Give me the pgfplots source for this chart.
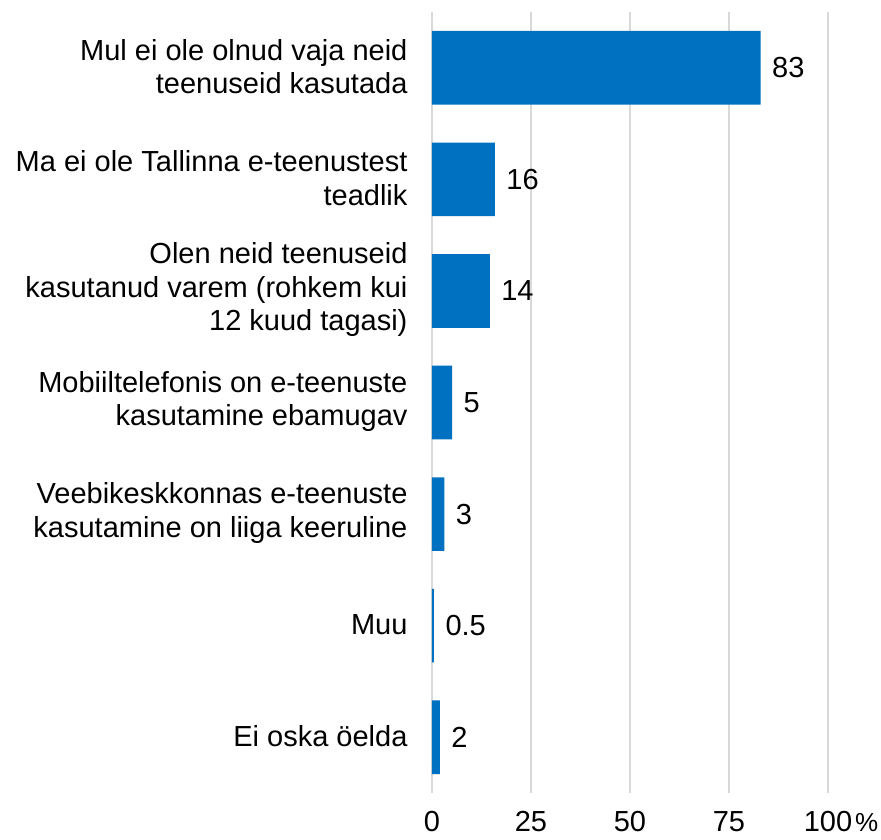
\documentclass[border=0pt]{standalone}
\usepackage{pgfplots}
\pgfplotsset{compat=1.18}
\usepackage{fontspec}
\setmainfont{Liberation Sans}
\definecolor{barblue}{HTML}{0070C0}
\definecolor{gridgray}{HTML}{D9D9D9}

\begin{document}
\begin{tikzpicture}
\useasboundingbox (-432pt,-46pt) rectangle (449pt,793pt);
\begin{axis}[
    at={(0,0)}, anchor=south west,
    scale only axis,
    width=396pt, height=781pt,
    xbar, bar width=0.66,
    xmin=0, xmax=100,
    ymin=-0.5, ymax=6.5,
    y dir=reverse,
    enlargelimits=false,
    axis line style={draw=none},
    major tick length=0pt,
    xtick={0,25,50,75,100},
    xticklabels={0,25,50,75,100\rlap{\kern3pt{\fontsize{26}{26}\selectfont\%}}},
    ytick={0,1,2,3,4,5,6},
    yticklabels={
      {Mul ei ole olnud vaja neid\\teenuseid kasutada},
      {Ma ei ole Tallinna e-teenustest\\teadlik},
      {Olen neid teenuseid\\kasutanud varem (rohkem kui\\12 kuud tagasi)},
      {Mobiiltelefonis on e-teenuste\\kasutamine ebamugav},
      {Veebikeskkonnas e-teenuste\\kasutamine on liiga keeruline},
      {Muu},
      {Ei oska öelda}
    },
    yticklabel style={align=right, font=\fontsize{29}{33.5}\selectfont, xshift=-21pt, yshift=1pt},
    xticklabel style={font=\fontsize{29}{33.5}\selectfont, yshift=-15pt},
    xmajorgrids,
    major grid style={draw=gridgray, line width=2pt},
    point meta=explicit symbolic,
    nodes near coords={\pgfplotspointmeta},
    nodes near coords style={anchor=west, xshift=8pt, font=\fontsize{29}{33.5}\selectfont, text=black},
    clip=false,
]
\addplot[fill=barblue, draw=none] coordinates {
    (83,0) [83]
    (15.9,1) [16]
    (14.6,2) [14]
    (5.1,3) [5]
    (3.1,4) [3]
    (0.5,5) [0.5]
    (2,6) [2]
};
\end{axis}
\end{tikzpicture}
\end{document}
